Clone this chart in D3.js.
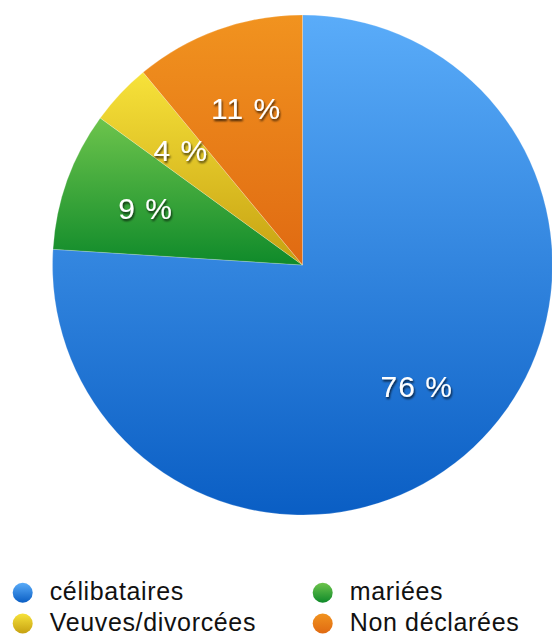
<!DOCTYPE html>
<html><head><meta charset="utf-8">
<script src="https://cdn.jsdelivr.net/npm/d3@7/dist/d3.min.js"></script>
<style>html,body{margin:0;padding:0;background:#fff;}svg{display:block;}</style>
</head><body>
<svg id="chart" width="552" height="635"></svg>
<script>
const categories = ["célibataires", "mariées", "Veuves/divorcées", "Non déclarées"];
const values = [76, 9, 4, 11];
const labels = ["76 %", "9 %", "4 %", "11 %"];
const topColors = ["#5aacf9", "#6dc44c", "#f7e23a", "#f1931f"];
const bottomColors = ["#0a5ec4", "#0f8a2a", "#c6a111", "#e06a12"];

const svg = d3.select("#chart");
const defs = svg.append("defs");
categories.forEach((c, i) => {
  const g = defs.append("linearGradient").attr("id", "g" + i)
    .attr("x1", 0).attr("y1", 0).attr("x2", 0).attr("y2", 1);
  g.append("stop").attr("offset", "0%").attr("stop-color", topColors[i]);
  g.append("stop").attr("offset", "100%").attr("stop-color", bottomColors[i]);
});
const f = defs.append("filter").attr("id", "shadow").attr("x", "-20%").attr("y", "-30%").attr("width", "140%").attr("height", "160%");
f.append("feDropShadow").attr("dx", 1).attr("dy", 2).attr("stdDeviation", 1.2)
  .attr("flood-color", "#000").attr("flood-opacity", 0.75);

const cx = 302.5, cy = 265, R = 250;
const pie = d3.pie().sort(null).value(d => d)(values);
const arc = d3.arc().innerRadius(0).outerRadius(R);
const labelArc = d3.arc().innerRadius(R * 0.667).outerRadius(R * 0.667);

const g = svg.append("g").attr("transform", `translate(${cx},${cy})`);
g.selectAll("path.slice").data(pie).join("path")
  .attr("class", "slice")
  .attr("d", arc)
  .attr("fill", (d, i) => `url(#g${i})`)
  .attr("stroke", "rgba(255,255,255,0.35)")
  .attr("stroke-width", 0.6);

g.selectAll("text.lbl").data(pie).join("text")
  .attr("class", "lbl")
  .attr("transform", d => `translate(${labelArc.centroid(d)})`)
  .attr("text-anchor", "middle")
  .attr("dominant-baseline", "central")
  .attr("font-family", "Liberation Sans, Arial, Helvetica, sans-serif")
  .attr("font-size", 30)
  .attr("letter-spacing", 1)
  .attr("fill", "#fff")
  .attr("filter", "url(#shadow)")
  .text((d, i) => labels[i]);

// legend
const legX = [22.7, 322.7], legY = [592.7, 623.5];
const leg = svg.append("g");
categories.forEach((c, i) => {
  const col = i % 2, row = Math.floor(i / 2);
  leg.append("circle").attr("cx", legX[col]).attr("cy", legY[row]).attr("r", 10)
    .attr("fill", `url(#g${i})`);
  leg.append("text").attr("x", legX[col] + 27).attr("y", legY[row] + 7.5)
    .attr("font-family", "Liberation Sans, Arial, Helvetica, sans-serif")
    .attr("font-size", 25).attr("letter-spacing", 0.65).attr("fill", "#111")
    .text(c);
});
</script>
</body></html>
